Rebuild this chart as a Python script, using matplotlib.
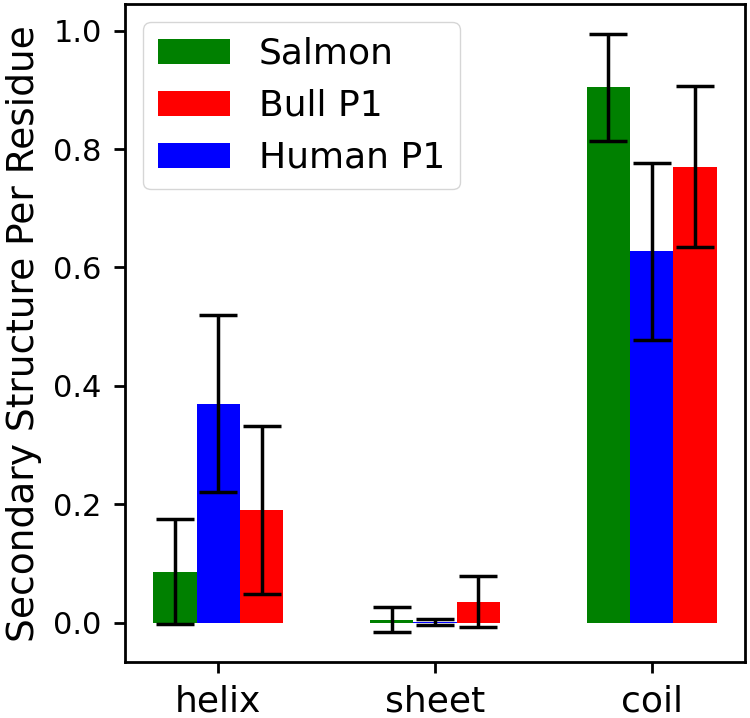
import numpy as np
import matplotlib.pyplot as plt

categories = ["helix", "sheet", "coil"]

salmon = [0.086, 0.005, 0.904]
salmon_err = [0.089, 0.021, 0.090]
human = [0.370, 0.0005, 0.627]
human_err = [0.149, 0.005, 0.150]
bull = [0.190, 0.035, 0.770]
bull_err = [0.142, 0.043, 0.136]

x = np.arange(len(categories))
w = 0.2

fig, ax = plt.subplots(figsize=(7.5, 7.18), dpi=100)
ekw = dict(elinewidth=2.5, capthick=2.5, ecolor="black")
ax.bar(x - w, salmon, w, yerr=salmon_err, capsize=14, color="green", label="Salmon", error_kw=ekw)
ax.bar(x, human, w, yerr=human_err, capsize=14, color="blue", label="Human P1", error_kw=ekw)
ax.bar(x + w, bull, w, yerr=bull_err, capsize=14, color="red", label="Bull P1", error_kw=ekw)

ax.set_xticks(x)
ax.set_xticklabels(categories)
ax.set_ylabel("Secondary Structure Per Residue", fontsize=27, labelpad=8)
ax.tick_params(axis="x", labelsize=26, width=2, length=8, pad=8)
ax.tick_params(axis="y", labelsize=22, width=2, length=8, pad=9)
for s in ax.spines.values():
    s.set_linewidth(2)

h, l = ax.get_legend_handles_labels()
ax.legend([h[0], h[2], h[1]], [l[0], l[2], l[1]], loc="upper left", fontsize=26)

fig.subplots_adjust(left=0.167, right=0.993, top=0.994, bottom=0.078)
fig.savefig("out.png")
